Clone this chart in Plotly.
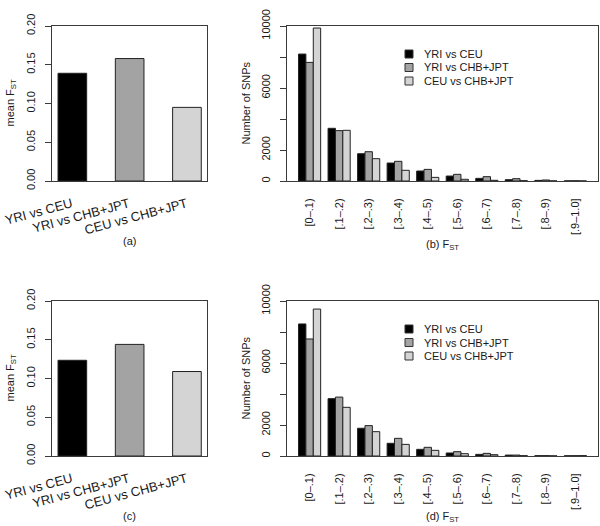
import plotly.graph_objects as go

# ---------------- data ----------------
comparisons = ["YRI vs CEU", "YRI vs CHB+JPT", "CEU vs CHB+JPT"]
bins = ["[0–.1)", "[.1–.2)", "[.2–.3)", "[.3–.4)", "[.4–.5)",
        "[.5–.6)", "[.6–.7)", "[.7–.8)", "[.8–.9)", "[.9–1.0]"]

mean_fst_a = [0.139, 0.158, 0.095]
mean_fst_c = [0.1235, 0.144, 0.109]

# panel (b): number of SNPs per F_ST bin
b_yri_ceu = [8190, 3400, 1760, 1160, 645, 320, 170, 85, 40, 10]
b_yri_chb = [7650, 3250, 1890, 1270, 750, 430, 280, 150, 65, 15]
b_ceu_chb = [9870, 3270, 1440, 690, 235, 110, 45, 20, 6, 3]

# panel (d)
d_yri_ceu = [8520, 3700, 1790, 820, 430, 195, 105, 60, 20, 15]
d_yri_chb = [7550, 3800, 1960, 1140, 560, 280, 170, 60, 25, 20]
d_ceu_chb = [9480, 3140, 1570, 750, 365, 150, 85, 20, 10, 25]

fst_ticks = [0, 0.05, 0.1, 0.15, 0.2]
snp_ticks = [0, 2000, 6000, 10000]

colors = ["#000000", "#a3a3a3", "#d4d4d4"]

W, H = 600, 526
FONT = "Liberation Sans, Arial, Helvetica, sans-serif"
TXT = "#1a1a1a"
LINE = "#3a3a3a"


def px(x):
    return x / W


def py(y):
    return 1 - y / H


fig = go.Figure()

# panel geometry (pixels)
left_x = (52.3, 207)
right_x = (287, 598)
top_y = (26, 181)
bot_y = (301, 456)

# -------- panels a and c --------
for vals, xa, ya in [(mean_fst_a, "x", "y"), (mean_fst_c, "x3", "y3")]:
    fig.add_trace(go.Bar(x=comparisons, y=vals, width=0.5,
                         marker=dict(color=colors, line=dict(color="#222222", width=1)),
                         xaxis=xa, yaxis=ya, showlegend=False))

# -------- panels b and d --------
for series, xa, ya in [((b_yri_ceu, b_yri_chb, b_ceu_chb), "x2", "y2"),
                       ((d_yri_ceu, d_yri_chb, d_ceu_chb), "x4", "y4")]:
    for name, vals, col in zip(comparisons, series, colors):
        fig.add_trace(go.Bar(x=bins, y=vals, name=name,
                             marker=dict(color=col, line=dict(color="#222222", width=1)),
                             xaxis=xa, yaxis=ya, showlegend=False))

axis_common = dict(showline=True, linecolor=LINE, linewidth=1, mirror=True,
                   showgrid=False, zeroline=False, automargin=False,
                   tickfont=dict(family=FONT, size=11, color=TXT))

xa_small = dict(axis_common, type="category", range=[-0.35, 2.35], ticks="",
                showticklabels=False)
xa_big = dict(axis_common, type="category", range=[-0.765, 9.765], ticks="",
              tickangle=-90, ticklabelstandoff=12)
ya_small = dict(axis_common, range=[0, 0.2], tickvals=fst_ticks,
                ticktext=[f"{v:.2f}" for v in fst_ticks],
                ticks="outside", ticklen=6, tickcolor=LINE, tickangle=-90,
                ticklabelstandoff=6)
ya_big = dict(axis_common, range=[0, 10000],
              tickvals=snp_ticks, ticktext=[str(v) for v in snp_ticks],
              ticks="outside", ticklen=6, tickcolor=LINE, tickangle=-90,
              ticklabelstandoff=6,
              minor=dict(tick0=0, dtick=2000, ticks="outside", ticklen=6,
                         tickcolor=LINE, showgrid=False))

fig.update_layout(
    width=W, height=H, margin=dict(l=0, r=0, t=0, b=0, autoexpand=False),
    paper_bgcolor="white", plot_bgcolor="white",
    barmode="group", bargap=0.25, bargroupgap=0,
    showlegend=False,
    font=dict(family=FONT, color=TXT),
    xaxis=dict(xa_small, domain=[px(left_x[0]), px(left_x[1])], anchor="y"),
    yaxis=dict(ya_small, domain=[py(top_y[1]), py(top_y[0])], anchor="x"),
    xaxis2=dict(xa_big, domain=[px(right_x[0]), px(right_x[1])], anchor="y2"),
    yaxis2=dict(ya_big, domain=[py(top_y[1]), py(top_y[0])], anchor="x2"),
    xaxis3=dict(xa_small, domain=[px(left_x[0]), px(left_x[1])], anchor="y3"),
    yaxis3=dict(ya_small, domain=[py(bot_y[1]), py(bot_y[0])], anchor="x3"),
    xaxis4=dict(xa_big, domain=[px(right_x[0]), px(right_x[1])], anchor="y4"),
    yaxis4=dict(ya_big, domain=[py(bot_y[1]), py(bot_y[0])], anchor="x4"),
)

annotations = []
shapes = []


def ann(text, x, y, size=11, angle=0, xanchor="center"):
    annotations.append(dict(text=text, x=px(x), y=py(y), xref="paper", yref="paper",
                            showarrow=False, textangle=angle, xanchor=xanchor,
                            yanchor="middle",
                            font=dict(family=FONT, size=size, color=TXT)))


for (ytop, ybot), xref, lab_l, lab_r, lab_y_l, lab_y_r in [
        (top_y, "x", "(a)", "(b) F<sub>ST</sub>", 241, 245),
        (bot_y, "x3", "(c)", "(d) F<sub>ST</sub>", 516, 517)]:
    yc = (ytop + ybot) / 2
    ann("mean F<sub>ST</sub>", 10, yc, angle=-90)
    ann("Number of SNPs", 245, yc, angle=-90)
    ann(lab_l, (left_x[0] + left_x[1]) / 2, lab_y_l)
    ann(lab_r, (right_x[0] + right_x[1]) / 2, lab_y_r)
    # slanted category labels under the mean-FST bars
    for name in comparisons:
        annotations.append(dict(text=name, x=name, xref=xref, y=py(ybot + 13),
                                yref="paper", showarrow=False, textangle=-15,
                                xanchor="right", yanchor="top", xshift=3,
                                borderpad=0,
                                font=dict(family=FONT, size=13, color=TXT)))
    # legend
    for i, (name, col) in enumerate(zip(comparisons, colors)):
        ry = ytop + 28 + i * 13.5
        shapes.append(dict(type="rect", xref="paper", yref="paper",
                           x0=px(405), x1=px(413), y0=py(ry + 4), y1=py(ry - 4),
                           fillcolor=col, line=dict(color="#333333", width=1)))
        ann(name, 422, ry, xanchor="left")

fig.update_layout(annotations=annotations, shapes=shapes)

fig.write_html("out.html",
               config=dict(displayModeBar=False),
               post_script="document.body.style.margin='0px';"
                           "document.body.style.padding='0px';")
